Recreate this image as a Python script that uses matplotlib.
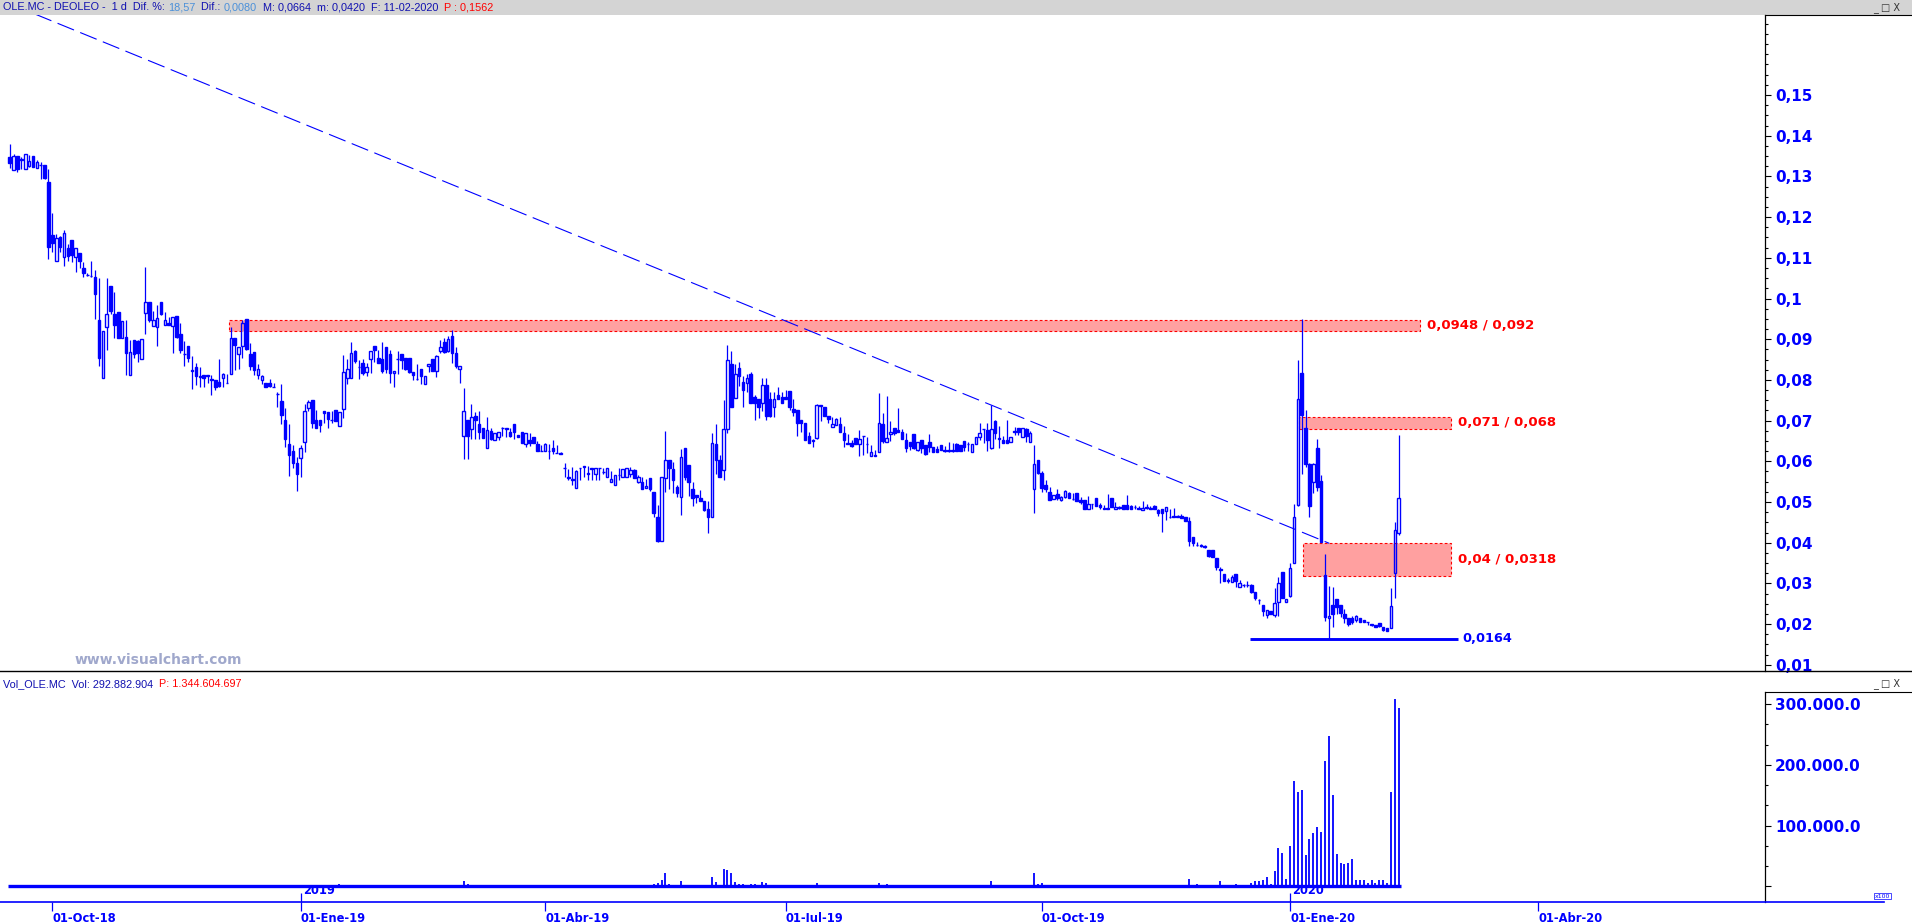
import matplotlib
matplotlib.use('Agg')
import matplotlib.pyplot as plt
from matplotlib.patches import Rectangle
from matplotlib.lines import Line2D
from matplotlib.ticker import MultipleLocator
import numpy as np
import pandas as pd

plt.rcParams['font.family'] = ['DejaVu Sans']

# OLE.MC diario, 14-09-2018 .. 11-02-2020
opens = [
    .1347, .1315, .1349, .1344, .1317, .1326, .1350, .1320, .1328, .1328,
    .1286, .1155, .1091, .1150, .1101, .1123, .1143, .1101, .1111, .1074,
    .1057, .1055, .1053, .0947, .0804, .0929, .1031, .0962, .0966, .0902,
    .0905, .0813, .0897, .0895, .0852, .0965, .0991, .0933, .0931, .0991,
    .0936, .0941, .0933, .0957, .0913, .0863, .0883, .0822, .0832, .0808,
    .0811, .0810, .0800, .0801, .0796, .0804, .0792, .0814, .0902, .0863,
    .0883, .0949, .0864, .0868, .0813, .0801, .0792, .0792, .0782, .0765,
    .0748, .0701, .0642, .0625, .0595, .0609, .0648, .0732, .0751, .0701,
    .0701, .0724, .0720, .0701, .0726, .0687, .0728, .0805, .0804, .0871,
    .0831, .0841, .0820, .0851, .0883, .0853, .0851, .0880, .0864, .0816,
    .0851, .0864, .0853, .0853, .0819, .0802, .0828, .0791, .0834, .0851,
    .0822, .0872, .0894, .0872, .0908, .0865, .0826, .0661, .0701, .0679,
    .0711, .0691, .0683, .0632, .0675, .0653, .0660, .0681, .0683, .0672,
    .0692, .0664, .0671, .0642, .0652, .0659, .0642, .0625, .0625, .0625,
    .0633, .0620, .0620, .0583, .0560, .0556, .0534, .0583, .0587, .0568,
    .0583, .0568, .0583, .0573, .0561, .0550, .0541, .0566, .0562, .0561,
    .0568, .0579, .0550, .0548, .0534, .0558, .0524, .0462, .0405, .0560,
    .0603, .0580, .0537, .0513, .0633, .0591, .0532, .0517, .0511, .0502,
    .0484, .0462, .0642, .0603, .0578, .0680, .0840, .0755, .0830, .0796,
    .0792, .0815, .0757, .0753, .0743, .0788, .0753, .0733, .0763, .0757,
    .0757, .0773, .0729, .0726, .0702, .0694, .0662, .0650, .0658, .0737,
    .0733, .0712, .0684, .0689, .0692, .0669, .0643, .0646, .0657, .0642,
    .0661, .0642, .0614, .0614, .0624, .0692, .0648, .0666, .0681, .0677,
    .0671, .0653, .0648, .0667, .0628, .0653, .0640, .0647, .0635, .0630,
    .0640, .0626, .0626, .0626, .0643, .0640, .0650, .0642, .0624, .0642,
    .0660, .0679, .0677, .0632, .0700, .0655, .0652, .0652, .0648, .0673,
    .0681, .0659, .0679, .0647, .0531, .0603, .0572, .0541, .0525, .0507,
    .0519, .0505, .0512, .0521, .0507, .0521, .0505, .0505, .0484, .0494,
    .0509, .0493, .0484, .0484, .0511, .0482, .0486, .0493, .0493, .0489,
    .0487, .0486, .0480, .0486, .0484, .0489, .0480, .0484, .0479, .0462,
    .0465, .0464, .0465, .0462, .0453, .0413, .0394, .0393, .0390, .0382,
    .0382, .0362, .0333, .0322, .0306, .0303, .0323, .0290, .0295, .0295,
    .0296, .0278, .0259, .0247, .0222, .0231, .0222, .0255, .0327, .0255,
    .0269, .0349, .0493, .0818, .0681, .0593, .0550, .0633, .0552, .0321,
    .0214, .0247, .0261, .0247, .0225, .0214, .0214, .0210, .0214, .0210,
    .0204, .0198, .0198, .0202, .0192, .0190, .0190, .0326, .0425,
]
highs = [
    .1380, .1354, .1349, .1348, .1354, .1353, .1350, .1340, .1335, .1328,
    .1318, .1210, .1158, .1154, .1168, .1133, .1143, .1123, .1111, .1090,
    .1062, .1091, .1070, .1050, .0919, .1050, .1031, .1016, .0966, .0945,
    .0947, .0898, .0897, .0898, .0900, .1078, .0991, .0969, .0984, .0991,
    .0968, .0955, .0954, .0957, .0941, .0896, .0883, .0859, .0841, .0832,
    .0811, .0811, .0812, .0801, .0851, .0816, .0814, .0931, .0902, .0882,
    .0947, .0949, .0890, .0868, .0839, .0812, .0792, .0802, .0792, .0770,
    .0789, .0730, .0692, .0639, .0611, .0639, .0742, .0751, .0751, .0726,
    .0701, .0724, .0722, .0724, .0726, .0722, .0861, .0851, .0894, .0874,
    .0849, .0851, .0841, .0870, .0883, .0874, .0892, .0880, .0874, .0822,
    .0871, .0864, .0853, .0853, .0819, .0839, .0828, .0810, .0840, .0851,
    .0861, .0898, .0902, .0908, .0923, .0881, .0834, .0779, .0701, .0742,
    .0720, .0724, .0683, .0708, .0681, .0669, .0671, .0685, .0683, .0681,
    .0692, .0664, .0671, .0669, .0669, .0659, .0650, .0640, .0644, .0642,
    .0652, .0640, .0623, .0597, .0580, .0585, .0579, .0583, .0589, .0589,
    .0583, .0583, .0583, .0583, .0583, .0575, .0566, .0583, .0580, .0583,
    .0587, .0580, .0566, .0562, .0556, .0558, .0524, .0493, .0561, .0675,
    .0603, .0598, .0542, .0630, .0633, .0591, .0548, .0517, .0529, .0502,
    .0502, .0669, .0691, .0615, .0751, .0885, .0870, .0840, .0845, .0810,
    .0815, .0820, .0763, .0753, .0805, .0805, .0770, .0770, .0782, .0770,
    .0775, .0773, .0753, .0726, .0702, .0694, .0673, .0655, .0741, .0739,
    .0733, .0712, .0708, .0706, .0710, .0687, .0667, .0653, .0657, .0677,
    .0662, .0659, .0640, .0628, .0767, .0718, .0761, .0700, .0681, .0732,
    .0679, .0669, .0648, .0667, .0647, .0653, .0640, .0667, .0635, .0638,
    .0640, .0638, .0648, .0646, .0646, .0640, .0650, .0648, .0642, .0660,
    .0695, .0679, .0695, .0738, .0702, .0687, .0662, .0702, .0659, .0684,
    .0683, .0681, .0681, .0675, .0640, .0603, .0576, .0554, .0538, .0517,
    .0531, .0515, .0529, .0525, .0521, .0521, .0512, .0505, .0515, .0494,
    .0509, .0497, .0492, .0520, .0511, .0499, .0489, .0493, .0517, .0493,
    .0493, .0489, .0502, .0494, .0491, .0493, .0484, .0484, .0487, .0484,
    .0486, .0468, .0470, .0462, .0464, .0413, .0401, .0398, .0394, .0382,
    .0382, .0362, .0341, .0322, .0314, .0321, .0323, .0308, .0298, .0306,
    .0298, .0278, .0261, .0247, .0235, .0231, .0288, .0316, .0327, .0261,
    .0349, .0494, .0849, .0949, .0726, .0597, .0597, .0656, .0566, .0372,
    .0294, .0292, .0261, .0247, .0236, .0214, .0220, .0222, .0214, .0210,
    .0204, .0199, .0199, .0202, .0192, .0190, .0288, .0452, .0664,
]
lows = [
    .1321, .1315, .1312, .1318, .1317, .1322, .1324, .1320, .1293, .1294,
    .1098, .1115, .1091, .1115, .1081, .1092, .1090, .1066, .1074, .1054,
    .1055, .1054, .0950, .0835, .0804, .0873, .0961, .0904, .0904, .0902,
    .0813, .0813, .0855, .0845, .0852, .0914, .0943, .0933, .0884, .0959,
    .0936, .0935, .0865, .0903, .0867, .0835, .0845, .0777, .0787, .0782,
    .0783, .0792, .0763, .0774, .0783, .0783, .0792, .0814, .0824, .0826,
    .0855, .0873, .0824, .0812, .0803, .0789, .0783, .0782, .0782, .0734,
    .0692, .0636, .0565, .0584, .0527, .0561, .0624, .0724, .0683, .0683,
    .0673, .0693, .0681, .0693, .0700, .0687, .0706, .0790, .0804, .0841,
    .0802, .0812, .0810, .0816, .0845, .0842, .0818, .0818, .0793, .0783,
    .0814, .0826, .0824, .0818, .0801, .0800, .0789, .0791, .0820, .0823,
    .0808, .0867, .0865, .0869, .0841, .0829, .0793, .0605, .0605, .0654,
    .0654, .0654, .0658, .0632, .0653, .0653, .0653, .0662, .0659, .0659,
    .0656, .0659, .0644, .0634, .0638, .0644, .0626, .0625, .0625, .0605,
    .0618, .0620, .0617, .0562, .0554, .0543, .0534, .0553, .0562, .0554,
    .0553, .0554, .0554, .0570, .0561, .0550, .0541, .0554, .0562, .0561,
    .0562, .0560, .0546, .0532, .0534, .0527, .0464, .0401, .0405, .0524,
    .0533, .0523, .0513, .0468, .0554, .0516, .0489, .0497, .0503, .0478,
    .0425, .0462, .0570, .0562, .0553, .0670, .0734, .0755, .0784, .0734,
    .0771, .0744, .0702, .0706, .0724, .0702, .0708, .0708, .0753, .0744,
    .0752, .0725, .0712, .0663, .0673, .0653, .0644, .0634, .0654, .0698,
    .0712, .0694, .0684, .0689, .0671, .0636, .0643, .0634, .0642, .0614,
    .0616, .0620, .0614, .0614, .0624, .0644, .0648, .0650, .0665, .0671,
    .0654, .0624, .0628, .0630, .0626, .0621, .0616, .0624, .0624, .0624,
    .0628, .0624, .0624, .0624, .0626, .0626, .0626, .0626, .0624, .0642,
    .0652, .0644, .0626, .0630, .0654, .0632, .0644, .0644, .0648, .0665,
    .0665, .0659, .0648, .0647, .0474, .0570, .0525, .0525, .0505, .0507,
    .0505, .0503, .0509, .0509, .0505, .0503, .0495, .0484, .0484, .0484,
    .0489, .0484, .0484, .0484, .0487, .0482, .0484, .0482, .0482, .0482,
    .0482, .0482, .0480, .0484, .0482, .0482, .0466, .0427, .0457, .0460,
    .0462, .0462, .0460, .0454, .0393, .0393, .0393, .0390, .0386, .0366,
    .0364, .0333, .0302, .0307, .0302, .0303, .0292, .0290, .0292, .0290,
    .0277, .0259, .0249, .0220, .0214, .0225, .0217, .0220, .0263, .0255,
    .0267, .0349, .0489, .0569, .0585, .0464, .0523, .0527, .0402, .0208,
    .0164, .0194, .0226, .0218, .0202, .0195, .0200, .0206, .0204, .0204,
    .0198, .0195, .0192, .0194, .0184, .0184, .0190, .0263, .0420,
]
closes = [
    .1334, .1350, .1319, .1341, .1354, .1339, .1324, .1335, .1328, .1297,
    .1126, .1136, .1148, .1127, .1160, .1105, .1107, .1123, .1093, .1062,
    .1057, .1055, .1010, .0855, .0919, .0961, .0970, .0936, .0904, .0945,
    .0865, .0868, .0863, .0867, .0900, .0991, .0947, .0947, .0951, .0963,
    .0946, .0935, .0954, .0906, .0873, .0863, .0855, .0822, .0810, .0808,
    .0804, .0810, .0800, .0782, .0786, .0814, .0792, .0902, .0886, .0882,
    .0939, .0875, .0833, .0824, .0826, .0809, .0783, .0785, .0782, .0765,
    .0715, .0654, .0616, .0597, .0568, .0633, .0724, .0746, .0693, .0683,
    .0689, .0718, .0703, .0701, .0700, .0722, .0819, .0826, .0865, .0846,
    .0831, .0816, .0831, .0870, .0874, .0842, .0822, .0826, .0818, .0822,
    .0851, .0849, .0828, .0820, .0812, .0802, .0810, .0810, .0840, .0823,
    .0859, .0880, .0868, .0900, .0865, .0833, .0834, .0724, .0662, .0710,
    .0701, .0673, .0658, .0677, .0656, .0669, .0671, .0681, .0680, .0662,
    .0673, .0659, .0644, .0669, .0644, .0646, .0626, .0625, .0642, .0625,
    .0625, .0620, .0617, .0583, .0560, .0553, .0575, .0583, .0587, .0572,
    .0580, .0583, .0583, .0573, .0583, .0556, .0566, .0566, .0580, .0583,
    .0579, .0560, .0561, .0532, .0539, .0531, .0474, .0403, .0561, .0603,
    .0584, .0553, .0521, .0610, .0562, .0548, .0511, .0513, .0503, .0480,
    .0462, .0644, .0603, .0562, .0680, .0850, .0734, .0815, .0810, .0775,
    .0805, .0744, .0744, .0734, .0788, .0712, .0712, .0753, .0753, .0744,
    .0752, .0734, .0722, .0694, .0695, .0653, .0644, .0650, .0739, .0737,
    .0712, .0703, .0692, .0703, .0671, .0653, .0643, .0638, .0642, .0655,
    .0661, .0642, .0622, .0614, .0694, .0650, .0657, .0671, .0669, .0671,
    .0654, .0632, .0638, .0632, .0647, .0632, .0618, .0634, .0624, .0624,
    .0628, .0626, .0626, .0626, .0626, .0626, .0634, .0642, .0642, .0660,
    .0669, .0679, .0652, .0679, .0669, .0655, .0644, .0646, .0659, .0673,
    .0671, .0681, .0663, .0669, .0593, .0572, .0535, .0532, .0505, .0517,
    .0509, .0512, .0527, .0509, .0507, .0503, .0499, .0484, .0495, .0494,
    .0489, .0487, .0484, .0484, .0487, .0487, .0486, .0482, .0482, .0484,
    .0487, .0482, .0486, .0486, .0484, .0482, .0474, .0474, .0487, .0462,
    .0462, .0464, .0460, .0454, .0405, .0400, .0394, .0393, .0390, .0367,
    .0366, .0341, .0333, .0307, .0306, .0316, .0307, .0302, .0295, .0295,
    .0280, .0263, .0259, .0231, .0235, .0225, .0251, .0300, .0263, .0261,
    .0337, .0462, .0752, .0714, .0593, .0489, .0593, .0538, .0402, .0218,
    .0220, .0225, .0243, .0227, .0214, .0200, .0204, .0220, .0206, .0206,
    .0204, .0198, .0194, .0195, .0185, .0184, .0244, .0431, .0511,
]
# volumen en miles (unidades del eje)
volumes_k = [
    1, 1, 1, 1, 1, 1, 1, 1, 1, 2,
    1, 1, 1, 1, 1, 1, 1, 1, 1, 1,
    1, 1, 2, 1, 1, 1, 1, 1, 1, 1,
    1, 1, 1, 1, 1, 1, 1, 1, 1, 1,
    1, 1, 1, 1, 1, 1, 1, 1, 1, 1,
    1, 1, 1, 1, 1, 1, 2, 1, 1, 1,
    1, 1, 1, 1, 1, 1, 1, 1, 1, 1,
    1, 2, 2, 2, 1, 1, 2, 1, 1, 1,
    1, 1, 1, 1, 1, 3, 1, 1, 1, 1,
    1, 1, 1, 1, 1, 1, 1, 1, 1, 1,
    1, 1, 1, 1, 1, 1, 1, 1, 1, 1,
    1, 1, 1, 1, 1, 1, 1, 9, 4, 1,
    1, 1, 1, 1, 1, 1, 1, 1, 1, 1,
    1, 1, 1, 1, 1, 1, 1, 1, 1, 1,
    1, 1, 1, 2, 1, 1, 1, 1, 1, 1,
    1, 1, 1, 1, 1, 1, 1, 1, 1, 1,
    1, 1, 1, 1, 1, 1, 3, 5, 11, 22,
    3, 2, 1, 8, 2, 2, 2, 1, 1, 1,
    1, 16, 7, 1, 28, 26, 21, 7, 4, 4,
    1, 3, 3, 1, 7, 6, 2, 1, 2, 1,
    1, 1, 1, 2, 1, 1, 1, 1, 5, 2,
    1, 1, 1, 1, 1, 1, 1, 1, 1, 1,
    1, 1, 1, 1, 5, 1, 4, 1, 1, 1,
    1, 1, 1, 1, 1, 1, 1, 1, 1, 1,
    1, 1, 1, 1, 1, 1, 1, 1, 1, 1,
    1, 1, 1, 8, 1, 1, 1, 1, 1, 1,
    1, 1, 1, 1, 21, 3, 6, 1, 1, 1,
    1, 1, 1, 1, 1, 1, 1, 1, 1, 1,
    1, 1, 1, 1, 1, 1, 1, 1, 2, 1,
    1, 1, 1, 1, 1, 1, 1, 1, 1, 1,
    1, 1, 1, 1, 12, 1, 3, 2, 1, 2,
    1, 2, 8, 2, 2, 2, 3, 1, 1, 2,
    5, 8, 8, 10, 14.5, 4, 25, 63, 55, 12,
    66, 174, 155, 159, 51, 77, 87, 98, 90, 206,
    247, 150, 53, 38, 37, 38, 45, 9.5, 11, 9.5,
    5, 11, 5, 11, 9.5, 5, 155, 308, 293,
]

holidays = ['2018-12-25', '2018-12-26', '2019-01-01', '2019-04-19', '2019-04-22',
            '2019-05-01', '2019-12-25', '2019-12-26', '2020-01-01', '2020-04-10',
            '2020-04-13', '2020-05-01']

# zonas marcadas (en barras)
zone_top = [0.0948, 0.071, 0.04]
zone_bottom = [0.092, 0.068, 0.0318]
zone_start = [56.6, 332.3, 333.4]
zone_end = [363.4, 371.6, 371.6]
zone_text = ['0,0948 / 0,092', '0,071 / 0,068', '0,04 / 0,0318']

support = 0.0164
support_span = [319.6, 373.3]

trend_x = [6.5, 340.1]
trend_y = [0.1699, 0.03985]

meses = {1: 'Ene', 4: 'Abr', 7: 'Jul', 10: 'Oct'}

BLUE = '#0000ff'
RED = '#ff0000'
DARK = '#1010b0'
LIGHT = '#4a90d9'

W, H = 1912, 922
fig = plt.figure(figsize=(W / 100, H / 100), dpi=100)


def fx(px):
    return px / W


def fy(py):
    return 1 - py / H


ax = fig.add_axes([0, fy(671), fx(1765), (671 - 15) / H])
axv = fig.add_axes([0, fy(902), fx(1765), (902 - 692) / H], sharex=ax)

# calendario bursátil
days = pd.bdate_range('2018-09-14', '2020-07-31')
days = days[~days.isin(pd.to_datetime(holidays))]

o = np.array(opens)
h = np.array(highs)
l = np.array(lows)
c = np.array(closes)
x = np.arange(len(o))
top = np.maximum(o, c)
bot = np.minimum(o, c)
up = c > o

# velas
ax.vlines(x, top, np.maximum(h, top), color=BLUE, lw=0.9, zorder=3)
ax.vlines(x, np.minimum(l, bot), bot, color=BLUE, lw=0.9, zorder=3)
ax.bar(x[up], (top - bot)[up], bottom=bot[up], width=0.66, facecolor='none',
       edgecolor=BLUE, linewidth=1.0, zorder=4)
ax.bar(x[~up], np.maximum(top - bot, 0.00012)[~up], bottom=bot[~up], width=0.66,
       facecolor=BLUE, edgecolor=BLUE, linewidth=1.0, zorder=4)

# zonas rojas
for zt, zb, z0, z1, txt in zip(zone_top, zone_bottom, zone_start, zone_end, zone_text):
    ax.add_patch(Rectangle((z0, zb), z1 - z0, zt - zb, facecolor='#ffa0a0',
                           edgecolor=RED, linewidth=0.8, linestyle=(0, (2.5, 2)), zorder=1))
    ax.annotate(txt, (z1, (zt + zb) / 2), xytext=(5, 0), textcoords='offset points',
                color=RED, fontweight='bold', fontsize=9.5, va='center', ha='left')

ax.hlines(support, support_span[0], support_span[1], color=BLUE, lw=2.1, zorder=5)
ax.annotate('0,0164', (support_span[1], support), xytext=(3, 0), textcoords='offset points',
            color=BLUE, fontweight='bold', fontsize=9.3, va='center', ha='left')

ax.plot(trend_x, trend_y, color=BLUE, lw=0.8, dashes=(16, 6), zorder=2)

ax.set_xlim(-2.5, 452.4)
ax.set_ylim(0.00848, 0.16966)
for s in ['left', 'top', 'bottom']:
    ax.spines[s].set_visible(False)
ax.spines['right'].set_linewidth(0.9)
ax.yaxis.tick_right()
pticks = np.arange(1, 16) / 100
ax.set_yticks(pticks, labels=[f'{v:.2f}'.rstrip('0').replace('.', ',') for v in pticks],
              fontweight='bold', color=BLUE, fontsize=11)
ax.yaxis.set_minor_locator(MultipleLocator(0.0025))
ax.tick_params(axis='y', which='major', length=4.2, width=0.8, pad=3)
ax.tick_params(axis='y', which='minor', length=2.2, width=0.8)
ax.tick_params(axis='x', which='both', bottom=False, labelbottom=False)

# volumen
vol = np.array(volumes_k) * 1000
axv.vlines(x, 0, vol, color=BLUE, lw=1.3)
axv.hlines(0, x[0] - 0.5, x[-1] + 0.5, color=BLUE, lw=2.4)
axv.set_ylim(-26000, 320000)
for s in ['left', 'top', 'bottom']:
    axv.spines[s].set_visible(False)
axv.spines['right'].set_linewidth(0.9)
axv.yaxis.tick_right()
vticks = [0, 100000, 200000, 300000]
axv.set_yticks(vticks, labels=['' if v == 0 else f'{v // 1000}.000.0' for v in vticks],
               fontweight='bold', color=BLUE, fontsize=11)
axv.yaxis.set_minor_locator(MultipleLocator(100000 / 3))
axv.tick_params(axis='y', which='major', length=4.2, width=0.8, pad=3)
axv.tick_params(axis='y', which='minor', length=2.2, width=0.8)

# eje de fechas
tick_pos, tick_lab, year_pos = [], [], []
for y in range(2018, 2021):
    for m in (1, 4, 7, 10):
        start = pd.Timestamp(y, m, 1)
        if start < days[0]:
            continue
        i = int(np.searchsorted(days, start))
        if i > 452:
            continue
        tick_pos.append(i)
        tick_lab.append(f'01-{meses[m]}-{str(y)[2:]}')
        if m == 1:
            year_pos.append((i, y))
axv.set_xticks(tick_pos, labels=tick_lab, fontweight='bold', color=BLUE, fontsize=8.3, ha='left')
axv.tick_params(axis='x', length=6.5, width=0.9, color=BLUE, pad=0.5)
tr = axv.get_xaxis_transform()
for i, y in year_pos:
    axv.vlines(i, 0, 9 / 210, color=BLUE, lw=0.9, transform=tr, clip_on=False)
    axv.text(i + 0.6, 5 / 210, str(y), transform=tr, color=BLUE, fontweight='bold',
             fontsize=8.3, va='bottom', ha='left')

# marco tipo visualchart
fig.add_artist(Rectangle((0, fy(15)), 1, 15 / H, transform=fig.transFigure,
                         facecolor='#d4d4d4', edgecolor='none', zorder=0))
fig.add_artist(Line2D([0, 1], [fy(671), fy(671)], color='black', lw=1))
fig.add_artist(Line2D([fx(1765), 1], [fy(15.5), fy(15.5)], color='black', lw=0.8))
fig.add_artist(Line2D([fx(1765), 1], [fy(692), fy(692)], color='black', lw=0.8))
fig.add_artist(Line2D([0, fx(1884)], [fy(902), fy(902)], color=BLUE, lw=1.2))

fig.text(fx(75), fy(660), 'www.visualchart.com', color='#a0a8cc', fontweight='bold',
         fontsize=10, va='center')
fig.text(fx(1873), fy(8), '_ □ X', fontsize=7, color='#333333', va='center')
fig.text(fx(1873), fy(684), '_ □ X', fontsize=7, color='#333333', va='center')
fig.text(fx(1875), fy(896), 'x100', fontsize=4.5, color=BLUE, va='center',
         bbox=dict(boxstyle='square,pad=0.15', fc='white', ec=BLUE, lw=0.5))

renderer = fig.canvas.get_renderer()


def runs(pieces, px, py, size):
    xx = fx(px)
    for s, col in pieces:
        t = fig.text(xx, fy(py), s, color=col, fontsize=size, va='center', ha='left',
                     family='Liberation Sans')
        xx += t.get_window_extent(renderer=renderer).width / fig.bbox.width


runs([('OLE.MC - DEOLEO -  1 d  Dif. %: ', DARK), ('18,57', LIGHT), ('  Dif.: ', DARK),
      ('0,0080', LIGHT), ('  M: 0,0664  m: 0,0420  F: 11-02-2020  ', DARK),
      ('P : 0,1562', RED)], 3, 7.5, 7.8)
runs([('Vol_OLE.MC  Vol: 292.882.904  ', DARK), ('P: 1.344.604.697', RED)], 3, 684, 7.8)

fig.savefig('out.png', dpi=100)
